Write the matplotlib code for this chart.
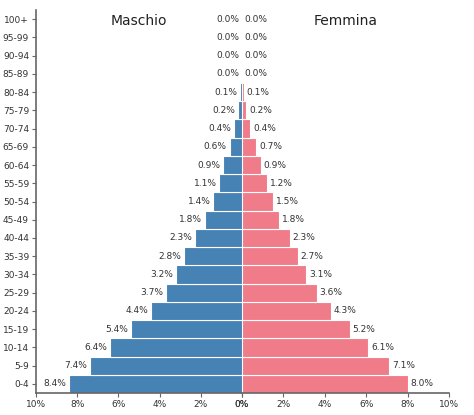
import matplotlib.pyplot as plt
import numpy as np

ages = ['0-4', '5-9', '10-14', '15-19', '20-24', '25-29', '30-34', '35-39',
        '40-44', '45-49', '50-54', '55-59', '60-64', '65-69', '70-74',
        '75-79', '80-84', '85-89', '90-94', '95-99', '100+']
male = [8.4, 7.4, 6.4, 5.4, 4.4, 3.7, 3.2, 2.8, 2.3, 1.8, 1.4, 1.1, 0.9,
        0.6, 0.4, 0.2, 0.1, 0.0, 0.0, 0.0, 0.0]
female = [8.0, 7.1, 6.1, 5.2, 4.3, 3.6, 3.1, 2.7, 2.3, 1.8, 1.5, 1.2, 0.9,
          0.7, 0.4, 0.2, 0.1, 0.0, 0.0, 0.0, 0.0]
xticks = [0, 2, 4, 6, 8, 10]

blue = '#4682B4'
pink = '#F07C89'
grey = '#333333'
spine_c = '#666666'

fig = plt.figure(figsize=(4.74, 4.15), dpi=100)
axl = fig.add_axes([36/474, 22/415, 206/474, 383/415])
axr = fig.add_axes([242/474, 22/415, 207/474, 383/415], sharey=axl)

y = np.arange(len(ages))

axl.barh(y, male, height=1.0, color=blue, edgecolor='white', linewidth=0.8)
axr.barh(y, female, height=1.0, color=pink, edgecolor='white', linewidth=0.8)

axl.set_xlim(10, 0)
axr.set_xlim(0, 10)
axl.set_ylim(-0.5, len(ages) - 0.5)

for yi, v in zip(y, male):
    axl.annotate(f'{v:.1f}%', (v, yi), xytext=(-2, 0), textcoords='offset points',
                 ha='right', va='center', fontsize=6.5, color=grey)
for yi, v in zip(y, female):
    axr.annotate(f'{v:.1f}%', (v, yi), xytext=(2, 0), textcoords='offset points',
                 ha='left', va='center', fontsize=6.5, color=grey)

axl.set_yticks(y)
axl.set_yticklabels(ages)
axl.set_xticks(xticks)
axl.set_xticklabels([f'{t}%' for t in xticks])
axr.set_xticks(xticks)
axr.set_xticklabels([f'{t}%' for t in xticks])

for ax in (axl, axr):
    ax.spines['top'].set_visible(False)
    ax.spines['right'].set_visible(False)
    ax.spines['bottom'].set_color(spine_c)
    ax.spines['bottom'].set_linewidth(1.2)
    ax.tick_params(axis='both', labelsize=6.5, colors=grey, length=3, width=0.8, pad=2)
    ax.tick_params(axis='both', color=spine_c)
axl.spines['left'].set_color(spine_c)
axl.spines['left'].set_linewidth(1.2)
axr.spines['left'].set_visible(False)
axr.tick_params(axis='y', left=False, labelleft=False)

axl.text(0.5, 0.99, 'Maschio', transform=axl.transAxes, ha='center', va='top',
         fontsize=10, color='#222222')
axr.text(0.5, 0.99, 'Femmina', transform=axr.transAxes, ha='center', va='top',
         fontsize=10, color='#222222')

fig.savefig('out.png', dpi=100)
